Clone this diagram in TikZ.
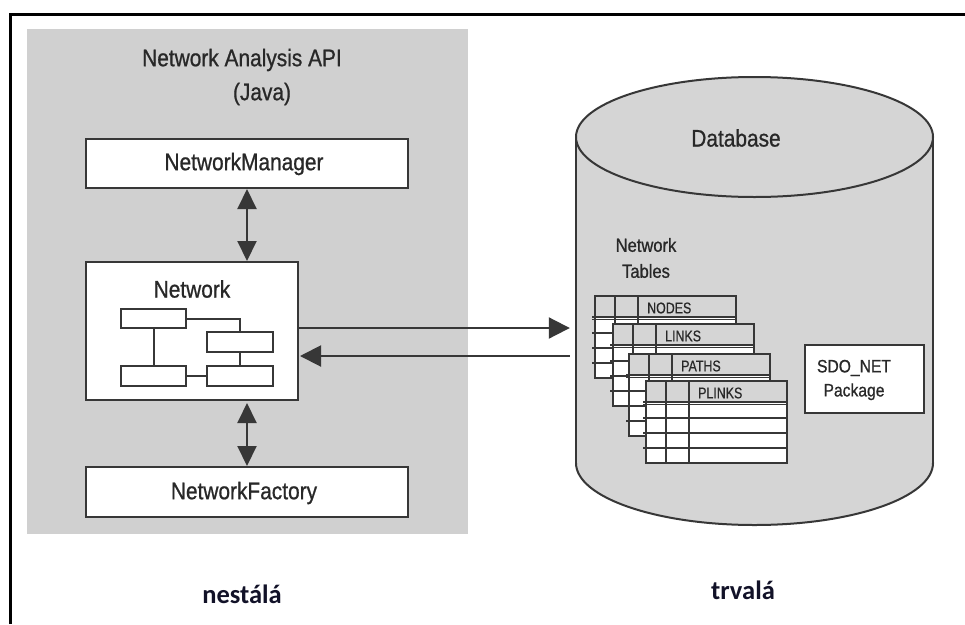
\documentclass[tikz,border=0pt]{standalone}
\usepackage{fontspec}
\setmainfont[FakeStretch=0.87,FakeBold=0.8]{Liberation Sans}
\newfontfamily\narrowfont[FakeStretch=0.8,FakeBold=0.6]{Liberation Sans}
\newfontfamily\calfont{Carlito}
\usetikzlibrary{arrows.meta}
\definecolor{panelgray}{RGB}{208,208,208}
\definecolor{dbgray}{RGB}{213,213,213}
\definecolor{linec}{RGB}{55,55,55}
\definecolor{textc}{RGB}{40,40,40}
\definecolor{labc}{RGB}{18,18,40}
\tikzset{
  box/.style={draw=linec, line width=2pt, fill=white, inner sep=0pt},
  btxt/.style={text=textc, inner sep=0pt, font=\fontsize{24}{28}\selectfont},
  tline/.style={draw=linec, line width=1.5pt},
  tlabel/.style={anchor=west, text=textc, inner sep=0pt, font=\narrowfont\fontsize{15.5}{17}\selectfont},
  arr/.style={draw=linec, line width=2pt, -{Triangle[length=21pt,width=21pt]}},
  dblarr/.style={draw=linec, line width=2pt, {Triangle[length=20pt,width=19pt]}-{Triangle[length=20pt,width=19pt]}},
  lab/.style={text=labc, inner sep=0pt, anchor=base, font=\calfont\bfseries\fontsize{26.5}{30}\selectfont},
  inner/.style={draw=linec, line width=1.6pt, fill=white},
}
\newcommand\nettable[4]{%
  \begin{scope}[shift={(#2,#3)}]
    \fill[white] (0,0) rectangle (141,82);
    \fill[dbgray] (0,0) rectangle (141,21);
    \draw[tline] (-3,21) -- (141,21) (-3,23.5) -- (141,23.5)
      (-3,37) -- (141,37) (-3,52) -- (141,52) (-3,67) -- (141,67)
      (20,0) -- (20,82) (43,0) -- (43,82);
    \draw[tline] (0,0) rectangle (141,82);
    \node[tlabel] (#1) at (52,12) {#4};
  \end{scope}}
\begin{document}
\begin{tikzpicture}[x=1pt,y=-1pt]
\useasboundingbox (0,0) rectangle (965,624);
\fill[white] (0,0) rectangle (965,624);
% frame
\draw[line width=3pt, black] (10.5,624) -- (10.5,14.5) -- (965,14.5);
% API panel
\fill[panelgray] (27,29) rectangle (468,534);
\node[btxt] (t1) at (242,60) {Network Analysis API};
\node[btxt] (t2) at (262,94) {(Java)};
\node[box, minimum width=322pt, minimum height=49pt] (mgr) at (247,163.5) {};
\node[btxt] (mgrt) at (244,164) {NetworkManager};
\node[box, minimum width=212pt, minimum height=138pt] (net) at (192,331) {};
\node[btxt] (nett) at (192,289) {Network};
\node[box, minimum width=322pt, minimum height=50pt] (fac) at (247,492) {};
\node[btxt] (fact) at (244,493) {NetworkFactory};
% inner diagram
\draw[inner] (121,309) rectangle (186,328);
\draw[inner] (207,332) rectangle (273,352);
\draw[inner] (121,366) rectangle (186,386);
\draw[inner] (207,366) rectangle (273,386);
\draw[draw=linec, line width=1.6pt] (186,319) -- (240,319) -- (240,332)
  (154,328) -- (154,366) (240,352) -- (240,366) (186,376) -- (207,376);
% arrows in panel
\draw[dblarr] (mgr.south) -- (mgr.south |- net.north);
\draw[dblarr] ([yshift=-2pt]mgr.south |- net.south) -- (fac.north);
% database cylinder
\node[inner sep=0pt, minimum width=357pt, minimum height=449pt] (db) at (754.5,300.5) {};
\fill[dbgray, draw=linec, line width=2pt] (754.5,463) ellipse [x radius=178.5pt, y radius=62pt];
\fill[dbgray] (576,137) rectangle (933,463);
\draw[draw=linec, line width=2pt] (576,137) -- (576,463) (933,137) -- (933,463);
\fill[dbgray, draw=linec, line width=2pt] (754.5,137) ellipse [x radius=178.5pt, y radius=60pt];
\node[btxt] (dbt) at (736,138) {Database};
\node[text=textc, inner sep=0pt, align=center, font=\fontsize{19}{26}\selectfont] (ntt) at (646,258) {Network\\Tables};
\nettable{tn}{595}{296}{NODES}
\nettable{tl}{613}{324}{LINKS}
\nettable{tp}{629}{354}{PATHS}
\nettable{tpl}{646}{381}{PLINKS}
\node[box, minimum width=119pt, minimum height=68pt] (sdo) at (864.5,379) {};
\node[text=textc, inner sep=0pt, align=center, font=\fontsize{18}{24}\selectfont] (sdot) at (854,380) {SDO\_NET\\Package};
% connectors
\draw[arr, shorten >=6pt] ([yshift=3pt]net.east) -- ([yshift=3pt]net.east -| db.west);
\draw[arr, shorten <=6pt] ([yshift=-25pt]net.east -| db.west) -- ([yshift=-25pt,xshift=1pt]net.east);
% bottom labels
\node[lab] (l1) at (242,603) {nestálá};
\node[lab] (l2) at (743,599) {trvalá};
\end{tikzpicture}
\end{document}
